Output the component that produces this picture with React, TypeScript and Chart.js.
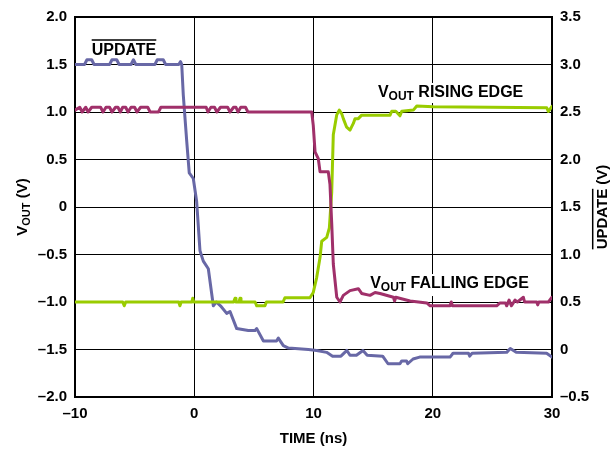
import React, { useEffect, useRef } from "react";
import { Chart, registerables } from "chart.js";

Chart.register(...registerables);

const FONT = "'Liberation Sans', Arial, Helvetica, sans-serif";

// UPDATE (right axis, V)
const updateTime = [
  -10, -9.2, -9.0, -8.6, -8.4, -7.1, -6.9, -6.5, -6.3, -5.3, -5.1, -4.9, -3.3, -3.1, -2.6, -2.4,
  -1.3, -1.15, -1.05, -0.92, -0.63, -0.42, -0.08, 0.2, 0.48, 0.76, 1.18, 1.6, 1.85, 2.2,
  2.72, 3.0, 3.56, 4.53, 5.1, 5.24, 5.8, 6.9, 7.05, 7.47, 7.9, 9.57, 10.27, 11.1, 11.6, 12.3,
  12.8, 13.06, 13.6, 14.15, 14.5, 15.8, 16.25, 17.25, 17.4, 17.8, 17.9, 18.35, 18.9, 21.45,
  21.7, 23.0, 23.1, 23.3, 26.2, 26.5, 27.0, 29.55, 30,
];
const updateVolts = [
  3.0, 3.0, 3.05, 3.05, 3.0, 3.0, 3.05, 3.05, 3.0, 3.0, 3.05, 3.0, 3.0, 3.05, 3.05, 3.0,
  3.0, 3.03, 3.0, 2.68, 2.19, 1.86, 1.8, 1.56, 1.04, 0.93, 0.85, 0.46, 0.5, 0.46,
  0.38, 0.4, 0.22, 0.2, 0.2, 0.22, 0.09, 0.09, 0.12, 0.04, 0.015, 0.0, -0.01, -0.03, -0.07, -0.07,
  -0.01, -0.06, -0.06, -0.01, -0.06, -0.07, -0.15, -0.15, -0.12, -0.12, -0.15, -0.1, -0.08, -0.08,
  -0.04, -0.04, -0.07, -0.04, -0.03, 0.01, -0.03, -0.04, -0.08,
];

// VOUT falling edge (left axis, V)
const fallTime = [
  -10, -9.6, -9.4, -9.1, -8.9, -8.6, -7.85, -7.65, -7.4, -7.1, -6.9, -6.6, -6.4, -6.2, -6.0,
  -5.75, -5.55, -5.3, -5.0, -4.8, -4.5, -3.9, -3.7, -3.0, -2.8, 1.0, 1.15, 1.4, 1.7, 1.9, 2.2,
  2.8, 3.0, 3.3, 3.5, 3.67, 3.9, 4.3, 4.5, 9.85, 9.98, 10.13, 10.4, 10.55, 11.24, 11.38, 11.53,
  11.66, 11.95, 12.22, 12.5, 13.06, 13.76, 14.04, 14.74, 15.16, 15.58, 16.7, 16.8, 16.9, 18.1,
  19.5, 19.78, 21.45, 21.55, 21.65, 25.36, 25.64, 26.1, 26.2, 26.4, 26.6, 26.9, 27.1, 27.6,
  27.7, 28.72, 28.8, 28.9, 29.7, 30,
];
const fallVolts = [
  1.02, 1.05, 1.0, 1.05, 1.0, 1.05, 1.05, 1.0, 1.05, 1.05, 1.0, 1.05, 1.05, 1.0, 1.05,
  1.05, 1.0, 1.05, 1.05, 1.0, 1.05, 1.05, 1.0, 1.0, 1.05, 1.05, 1.0, 1.05, 1.05, 1.0, 1.05,
  1.05, 1.0, 1.05, 1.05, 1.0, 1.05, 1.05, 1.0, 1.0, 0.86, 0.58, 0.51, 0.37, 0.37, 0.24, -0.18,
  -0.6, -0.95, -1.0, -0.93, -0.88, -0.86, -0.91, -0.93, -0.9, -0.91, -0.95, -0.99, -0.95, -0.99,
  -1.01, -1.04, -1.04, -1.0, -1.04, -1.04, -1.01, -1.01, -1.04, -0.98, -1.04, -0.98, -1.0, -0.95,
  -1.0, -1.0, -1.03, -1.0, -1.0, -0.95,
];

// VOUT rising edge (left axis, V)
const riseTime = [
  -10, -6.0, -5.87, -5.75, -1.3, -1.2, -1.1, -0.2, -0.13, -0.05, 3.3, 3.42, 3.5, 3.75, 3.84,
  3.92, 5.1, 5.24, 5.93, 6.05, 7.45, 7.6, 9.7, 9.98, 10.27, 10.55, 10.69, 11.11, 11.33, 11.53,
  11.66, 11.95, 12.16, 12.37, 12.5, 12.78, 13.06, 13.34, 13.48, 13.76, 14.04, 16.42, 16.56,
  16.9, 17.25, 17.4, 18.37, 18.66, 20.05, 29.56, 29.69, 30,
];
const riseVolts = [
  -1.0, -1.0, -1.04, -1.0, -1.0, -1.04, -1.0, -1.0, -0.96, -1.0, -1.0, -0.96, -1.0, -1.0, -0.96,
  -1.0, -1.0, -1.04, -1.04, -1.0, -1.0, -0.955, -0.955, -0.9, -0.74, -0.53, -0.36, -0.32, -0.22, 0.16,
  0.76, 0.97, 1.02, 0.98, 0.93, 0.84, 0.81, 0.88, 0.93, 0.93, 0.967, 0.967, 1.008,
  1.008, 0.96, 1.008, 1.02, 1.064, 1.055, 1.045, 1.005, 1.06,
];

const xMin = -10, xMax = 30, xStep = 10;
const yMin = -2, yMax = 2, yStep = 0.5;
const y2Min = -0.5, y2Max = 3.5, y2Step = 0.5;

const COLOR_UPDATE = "#6868a6";
const COLOR_FALL = "#a0306a";
const COLOR_RISE = "#99cc00";

type Part = { text: string; size: number; dy?: number; over?: boolean };

function richWidth(ctx: CanvasRenderingContext2D, parts: Part[]) {
  let w = 0;
  for (const p of parts) {
    ctx.font = `bold ${p.size}px ${FONT}`;
    w += ctx.measureText(p.text).width;
  }
  return w;
}

function drawRich(ctx: CanvasRenderingContext2D, parts: Part[], x: number, y: number, align: "left" | "center") {
  const total = richWidth(ctx, parts);
  let cx = align === "center" ? x - total / 2 : x;
  ctx.textAlign = "left";
  ctx.textBaseline = "alphabetic";
  ctx.fillStyle = "#000";
  ctx.strokeStyle = "#000";
  for (const p of parts) {
    ctx.font = `bold ${p.size}px ${FONT}`;
    const w = ctx.measureText(p.text).width;
    ctx.fillText(p.text, cx, y + (p.dy || 0));
    if (p.over) {
      const oy = y - p.size * 0.72 - 3.5;
      ctx.lineWidth = 1.5;
      ctx.beginPath();
      ctx.moveTo(cx, oy);
      ctx.lineTo(cx + w, oy);
      ctx.stroke();
    }
    cx += w;
  }
  return total;
}

function fmt(v: number) {
  if (Math.abs(v) < 1e-9) return "0";
  const s = Math.abs(v).toFixed(1);
  return v < 0 ? "\u2013" + s : s;
}
function fmtX(v: number) {
  if (Math.abs(v) < 1e-9) return "0";
  return v < 0 ? "\u2013" + Math.abs(v) : String(v);
}

const vout = (rest: string, size: number): Part[] => [
  { text: "V", size },
  { text: "OUT", size: Math.round(size * 0.75), dy: 3 },
  { text: rest, size },
];

const labelsPlugin = {
  id: "labels",
  beforeDatasetsDraw(chart: any) {
    const ctx = chart.ctx as CanvasRenderingContext2D;
    const x = chart.scales.x;
    const y = chart.scales.y;
    ctx.save();
    ctx.fillStyle = "#fff";
    const rx = x.getPixelForValue(15.4) - 3;
    const ry = y.getPixelForValue(1.158);
    ctx.fillRect(rx, ry - 14, 152, 20);
    const fx = x.getPixelForValue(14.75) - 3;
    const fy = y.getPixelForValue(-0.853);
    ctx.fillRect(fx, fy - 14, 170, 22);
    const a = chart.chartArea;
    ctx.strokeStyle = "#000";
    ctx.lineWidth = 2;
    ctx.strokeRect(a.left, a.top, a.right - a.left, a.bottom - a.top);
    ctx.restore();
  },
  afterDatasetsDraw(chart: any) {
    const ctx = chart.ctx as CanvasRenderingContext2D;
    const x = chart.scales.x;
    const y = chart.scales.y;
    const a = chart.chartArea;
    ctx.save();
    drawRich(ctx, [{ text: "UPDATE", size: 16, over: true }], x.getPixelForValue(-8.6), y.getPixelForValue(1.6), "left");
    drawRich(ctx, vout(" RISING EDGE", 16), x.getPixelForValue(15.4), y.getPixelForValue(1.158), "left");
    drawRich(ctx, vout(" FALLING EDGE", 16), x.getPixelForValue(14.75), y.getPixelForValue(-0.853), "left");

    drawRich(ctx, [{ text: "TIME (ns)", size: 15 }], (a.left + a.right) / 2, 443, "center");
    const cy = (a.top + a.bottom) / 2;
    ctx.save();
    ctx.translate(27, cy);
    ctx.rotate(-Math.PI / 2);
    drawRich(ctx, vout(" (V)", 15), 0, 0, "center");
    ctx.restore();
    ctx.save();
    ctx.translate(607, cy);
    ctx.rotate(-Math.PI / 2);
    drawRich(ctx, [{ text: "UPDATE", size: 15, over: true }, { text: " (V)", size: 15 }], 0, 0, "center");
    ctx.restore();
    ctx.restore();
  },
};

function pairs(xs: number[], ys: number[]) {
  return xs.map((t, i) => ({ x: t, y: ys[i] }));
}

export default function App() {
  const ref = useRef<HTMLCanvasElement | null>(null);
  useEffect(() => {
    document.body.style.margin = "0";
    const canvas = ref.current;
    if (!canvas) return;
    Chart.defaults.font.family = FONT;
    Chart.defaults.font.size = 15;
    Chart.defaults.font.weight = "bold" as any;
    Chart.defaults.color = "#000";
    const line = (data: any, color: string, axis: string) => ({
      data,
      borderColor: color,
      backgroundColor: color,
      borderWidth: 3,
      borderJoinStyle: "round",
      borderCapStyle: "round",
      pointRadius: 0,
      tension: 0,
      fill: false,
      yAxisID: axis,
    });
    const chart = new Chart(canvas, {
      type: "line",
      data: {
        datasets: [
          line(pairs(fallTime, fallVolts), COLOR_FALL, "y"),
          line(pairs(riseTime, riseVolts), COLOR_RISE, "y"),
          line(pairs(updateTime, updateVolts), COLOR_UPDATE, "y2"),
        ] as any,
      },
      options: {
        animation: false,
        responsive: false,
        events: [],
        layout: { padding: { top: 14, left: 0, right: 0, bottom: 0 } },
        plugins: { legend: { display: false }, tooltip: { enabled: false }, title: { display: false } },
        scales: {
          x: {
            type: "linear",
            min: xMin,
            max: xMax,
            ticks: { stepSize: xStep, padding: 8, callback: (v: any) => fmtX(Number(v)), maxRotation: 0 },
            grid: { color: "#000", lineWidth: 1, drawTicks: false },
            border: { color: "#000", width: 2 },
            afterFit: (s: any) => { s.height = 53; },
          },
          y: {
            type: "linear",
            position: "left",
            min: yMin,
            max: yMax,
            ticks: { stepSize: yStep, padding: 8, callback: (v: any) => fmt(Number(v)) },
            grid: { color: "#000", lineWidth: 1, drawTicks: false },
            border: { color: "#000", width: 2 },
            afterFit: (s: any) => { s.width = 75; },
          },
          y2: {
            type: "linear",
            position: "right",
            min: y2Min,
            max: y2Max,
            ticks: { stepSize: y2Step, padding: 8, callback: (v: any) => fmt(Number(v)) },
            grid: { display: false, drawTicks: false },
            border: { color: "#000", width: 2 },
            afterFit: (s: any) => { s.width = 63; },
          },
        },
      } as any,
      plugins: [labelsPlugin],
    });
    return () => chart.destroy();
  }, []);
  return (
    <div style={{ width: 615, height: 450, background: "#fff" }}>
      <canvas ref={ref} width={615} height={450} />
    </div>
  );
}
